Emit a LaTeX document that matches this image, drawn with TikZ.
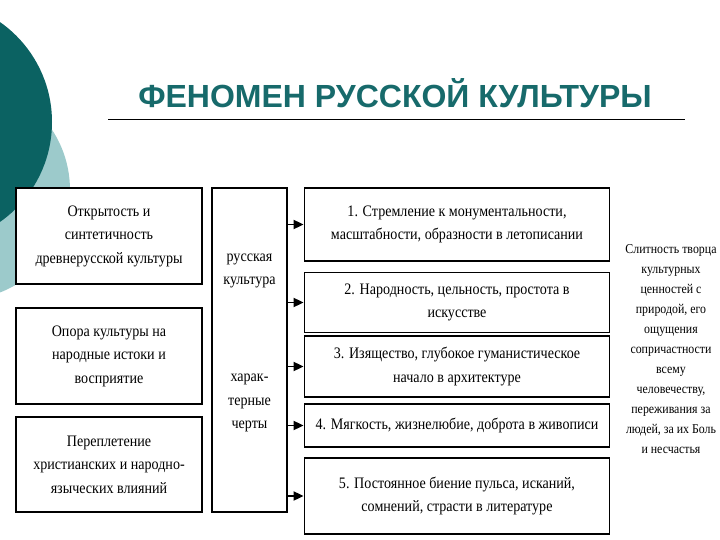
\documentclass[tikz,border=0pt]{standalone}
\usepackage{fontspec}
\setmainfont{Liberation Serif}
\newfontfamily\boxfont{Liberation Serif}[FakeStretch=0.88]
\newfontfamily\titlefont{Liberation Sans}
\usepackage{tikz}
\usetikzlibrary{arrows.meta,positioning,calc}
\definecolor{tealdark}{HTML}{0B6262}
\definecolor{teallight}{HTML}{9CCACB}
\definecolor{titleteal}{HTML}{176A6B}

\begin{document}
\begin{tikzpicture}[
  x=1pt,y=-1pt,
  block/.style={rectangle,draw=black,fill=white,line width=1.8pt,inner sep=2pt,
    align=center,font=\boxfont\fontsize{16}{23.5}\selectfont},
  leftblock/.style={block,minimum width=186pt,minimum height=#1},
  rightblock/.style={block,minimum width=305pt,minimum height=#1},
  plain/.style={align=center,inner sep=0pt,font=\boxfont\fontsize{16}{23.5}\selectfont},
  arr/.style={-{Triangle[length=10pt,width=9pt]},line width=1.8pt},
]
  \useasboundingbox (0,0) rectangle (720,540);
  % background circles
  \fill[teallight] (-40,190) circle[radius=110];
  \fill[tealdark] (-70,122) circle[radius=122];
  % title
  \node[font=\titlefont\bfseries\fontsize{32}{36}\selectfont,text=titleteal] (title) at (395,93) {ФЕНОМЕН РУССКОЙ КУЛЬТУРЫ};
  \draw[line width=1pt] (108,120) -- (685,120);
  % left column
  \node[leftblock=96pt] (src1) at (109,236) {Открытость и\\синтетичность\\древнерусской культуры};
  \node[leftblock=96pt] (src2) at (109,356) {Опора культуры на\\народные истоки и\\восприятие};
  \node[leftblock=95pt] (src3) at (109,464.5) {Переплетение\\христианских и народно-\\языческих влияний};
  % middle column
  \node[block,minimum width=75pt,minimum height=324pt] (core) at (249.5,350) {};
  \node[plain] (coretop) at (249.5,271) {русская\\культура};
  \node[plain] (corebot) at (249.5,403) {харак-\\терные\\черты};
  % right column
  \node[rightblock=73pt] (trait1) at (457,224.5) {1. Стремление к монументальности,\\масштабности, образности в летописании};
  \node[rightblock=60pt] (trait2) at (457,302.5) {2. Народность, цельность, простота в\\искусстве};
  \node[rightblock=61pt] (trait3) at (457,366.5) {3. Изящество, глубокое гуманистическое\\начало в архитектуре};
  \node[rightblock=43pt] (trait4) at (457,425.5) {4. Мягкость, жизнелюбие, доброта в живописи};
  \node[rightblock=76pt] (trait5) at (457,496) {5. Постоянное биение пульса, исканий,\\сомнений, страсти в литературе};
  \foreach \i in {1,...,5}
    \draw[arr] (core.east |- trait\i.west) -- (trait\i.west);
  % side note
  \node[plain,font=\boxfont\fontsize{13.5}{20}\selectfont] (note) at (671,349) {Слитность творца\\культурных\\ценностей с\\природой, его\\ощущения\\сопричастности\\всему\\человечеству,\\переживания за\\людей, за их Боль\\и несчастья};
\end{tikzpicture}
\end{document}
